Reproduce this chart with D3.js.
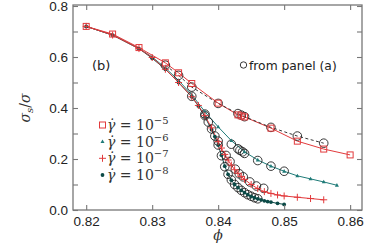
<!DOCTYPE html>
<html><head><meta charset="utf-8">
<script src="https://cdn.jsdelivr.net/npm/d3@7"></script>
<style>body{margin:0;background:#fff}svg{display:block}</style>
</head><body><svg id="c" width="382" height="244"></svg>
<script>
// ---- data ----
const xTicks = [0.82, 0.83, 0.84, 0.85, 0.86];
const xTickLabels = ["0.82", "0.83", "0.84", "0.85", "0.86"];
const yTicks = [0, 0.2, 0.4, 0.6, 0.8];
const yTickLabels = ["0.0", "0.2", "0.4", "0.6", "0.8"];
const yMinorTicks = [0.1, 0.3, 0.5, 0.7];

const x5 = [0.82, 0.824, 0.828, 0.832, 0.834, 0.836, 0.84, 0.843, 0.8435, 0.844, 0.848, 0.852, 0.856, 0.86];
const y5 = [0.72, 0.69, 0.637, 0.577, 0.538, 0.496, 0.419, 0.373, 0.369, 0.365, 0.321, 0.27, 0.239, 0.216];

const x6 = [0.82, 0.824, 0.828, 0.83, 0.832, 0.834, 0.836, 0.838, 0.84, 0.842, 0.844, 0.846, 0.848, 0.85, 0.852, 0.854, 0.856, 0.858];
const y6 = [0.72, 0.686, 0.633, 0.6, 0.557, 0.508, 0.452, 0.385, 0.326, 0.272, 0.228, 0.196, 0.172, 0.152, 0.134, 0.122, 0.11, 0.097];

const x7 = [0.82, 0.824, 0.828, 0.83, 0.832, 0.834, 0.836, 0.837, 0.838, 0.839, 0.84, 0.8405, 0.841, 0.8415, 0.842, 0.8425, 0.843, 0.8435, 0.844, 0.845, 0.846, 0.847, 0.848, 0.849, 0.85, 0.852, 0.854, 0.856];
const y7 = [0.72, 0.686, 0.633, 0.598, 0.552, 0.5, 0.444, 0.41, 0.37, 0.322, 0.268, 0.243, 0.218, 0.196, 0.176, 0.158, 0.144, 0.131, 0.12, 0.1, 0.084, 0.072, 0.065, 0.059, 0.055, 0.05, 0.045, 0.04];

const x8 = [0.82, 0.824, 0.828, 0.83, 0.832, 0.834, 0.836, 0.837, 0.838, 0.839, 0.8395, 0.84, 0.8405, 0.841, 0.8415, 0.842, 0.8425, 0.843, 0.8435, 0.844, 0.8445, 0.845, 0.8455, 0.846, 0.8465, 0.847, 0.8475, 0.848, 0.849, 0.85];
const y8 = [0.72, 0.686, 0.633, 0.595, 0.552, 0.5, 0.444, 0.408, 0.365, 0.315, 0.288, 0.255, 0.215, 0.172, 0.14, 0.117, 0.1, 0.088, 0.077, 0.068, 0.06, 0.053, 0.048, 0.044, 0.04, 0.036, 0.033, 0.031, 0.026, 0.022];

// circles "from panel (a)"
const xa5 = [0.832, 0.834, 0.836, 0.84, 0.843, 0.8435, 0.844, 0.848, 0.852, 0.856];
const ya5 = [0.568, 0.528, 0.482, 0.418, 0.378, 0.372, 0.366, 0.324, 0.29, 0.262];
const xa6 = [0.836, 0.838, 0.842, 0.843, 0.8433, 0.8437, 0.844, 0.846, 0.848, 0.85];
const ya6 = [0.446, 0.376, 0.258, 0.24, 0.234, 0.228, 0.222, 0.194, 0.172, 0.152];
const xa7 = [0.838, 0.8385, 0.839, 0.84, 0.8412, 0.8418, 0.8426, 0.8432, 0.8438, 0.8448, 0.8458, 0.8469];
const ya7 = [0.37, 0.345, 0.318, 0.27, 0.214, 0.19, 0.16, 0.142, 0.13, 0.11, 0.094, 0.085];
const xa8 = [0.8395, 0.84, 0.8405, 0.841, 0.8415, 0.842, 0.8425, 0.843, 0.8435, 0.844, 0.8445, 0.845, 0.8455, 0.846];
const ya8 = [0.29, 0.255, 0.213, 0.17, 0.14, 0.118, 0.1, 0.088, 0.077, 0.068, 0.06, 0.054, 0.048, 0.044];

const legendLabels = ["\u2212" + "5", "\u2212" + "6", "\u2212" + "7", "\u2212" + "8"];

// ---- layout ----
const red = "#e23a3c", teal = "#1f7b78", dark = "#0b4a47";
const L = 73, R = 362, T = 5, B = 210;
const svg = d3.select("#c");
const x = d3.scaleLinear().domain([0.818, 0.8618]).range([L, R]);
const y = d3.scaleLinear().domain([0, 0.8]).range([B, T + 1]);

const zip = (a, b) => a.map((v, i) => [v, b[i]]);
const line = d3.line().x(d => x(d[0])).y(d => y(d[1]));

const plot = svg.append("g");
// lines
plot.append("path").datum(zip(x6, y6)).attr("d", line).attr("fill", "none").attr("stroke", teal).attr("stroke-width", 1);
plot.append("path").datum(zip(x8, y8)).attr("d", line).attr("fill", "none").attr("stroke", dark).attr("stroke-width", 1);
plot.append("path").datum(zip(x7, y7)).attr("d", line).attr("fill", "none").attr("stroke", red).attr("stroke-width", 1);
plot.append("path").datum(zip(x5, y5)).attr("d", line).attr("fill", "none").attr("stroke", red).attr("stroke-width", 1);
plot.append("path").datum(zip(xa5, ya5)).attr("d", line).attr("fill", "none").attr("stroke", "#222").attr("stroke-width", 0.9).attr("stroke-dasharray", "3,2.5");

// circles from panel (a)
const circ = [].concat(zip(xa5, ya5), zip(xa6, ya6), zip(xa7, ya7), zip(xa8, ya8));
plot.selectAll(".ca").data(circ).join("circle").attr("cx", d => x(d[0])).attr("cy", d => y(d[1]))
  .attr("r", 4.3).attr("fill", "none").attr("stroke", "#222").attr("stroke-width", 0.9);

// markers
function sq(g, cx, cy) { g.append("rect").attr("x", cx - 3).attr("y", cy - 3).attr("width", 6).attr("height", 6).attr("fill", "none").attr("stroke", red).attr("stroke-width", 1); }
function tri(g, cx, cy) { g.append("path").attr("d", `M${cx},${cy - 2.2}L${cx + 2},${cy + 1.4}L${cx - 2},${cy + 1.4}Z`).attr("fill", teal); }
function plus(g, cx, cy) { g.append("path").attr("d", `M${cx - 3.5},${cy}H${cx + 3.5}M${cx},${cy - 3.5}V${cy + 3.5}`).attr("stroke", red).attr("stroke-width", 1); }
function dot(g, cx, cy) { g.append("circle").attr("cx", cx).attr("cy", cy).attr("r", 1.9).attr("fill", dark); }

zip(x6, y6).forEach(d => tri(plot, x(d[0]), y(d[1])));
zip(x8, y8).forEach(d => dot(plot, x(d[0]), y(d[1])));
zip(x7, y7).forEach(d => plus(plot, x(d[0]), y(d[1])));
zip(x5, y5).forEach(d => sq(plot, x(d[0]), y(d[1])));

// frame & axes
const axCol = "#777";
svg.append("rect").attr("x", L).attr("y", T).attr("width", R - L).attr("height", B - T)
  .attr("fill", "none").attr("stroke", axCol).attr("stroke-width", 1.3);

const xb = svg.append("g").attr("transform", `translate(0,${B})`)
  .call(d3.axisBottom(x).tickValues(xTicks).tickSize(-5).tickPadding(6).tickFormat((d, i) => xTickLabels[i]));
const xt = svg.append("g").attr("transform", `translate(0,${T})`)
  .call(d3.axisTop(x).tickValues(xTicks).tickSize(-5).tickFormat(""));
const yl = svg.append("g").attr("transform", `translate(${L},0)`)
  .call(d3.axisLeft(y).tickValues(yTicks.concat(yMinorTicks)).tickSize(-5).tickPadding(5)
    .tickFormat(d => { const i = yTicks.indexOf(d); return i >= 0 ? yTickLabels[i] : ""; }));
const yr = svg.append("g").attr("transform", `translate(${R},0)`)
  .call(d3.axisRight(y).tickValues(yTicks.concat(yMinorTicks)).tickSize(-5).tickFormat(""));
[xb, xt, yl, yr].forEach(g => {
  g.select(".domain").remove();
  g.selectAll(".tick line").attr("stroke", axCol).attr("stroke-width", 1.1);
  g.selectAll(".tick text").attr("fill", "#222").style("font-family", "Liberation Sans, Arial, sans-serif").style("font-size", "13.5px");
});

// axis labels
svg.append("text").attr("x", 218).attr("y", 240).attr("text-anchor", "middle")
  .style("font-family", "DejaVu Serif, serif").style("font-style", "italic").style("font-size", "14px").attr("fill", "#333").text("\u03d5");
const yt = svg.append("text").attr("transform", "translate(30,108) rotate(-90)").attr("text-anchor", "middle")
  .style("font-family", "DejaVu Serif, serif").style("font-style", "italic").style("font-size", "14px").attr("fill", "#333");
yt.append("tspan").text("\u03c3");
yt.append("tspan").attr("dy", 3).style("font-size", "10px").text("s");
yt.append("tspan").attr("dy", -3).style("font-style", "normal").text("/");
yt.append("tspan").text("\u03c3");

// annotations
svg.append("text").attr("x", 92).attr("y", 70).style("font-family", "DejaVu Sans, sans-serif").style("font-size", "13px").attr("fill", "#222").text("(b)");
svg.append("circle").attr("cx", 243.5).attr("cy", 65).attr("r", 3.2).attr("fill", "none").attr("stroke", "#222").attr("stroke-width", 0.9);
svg.append("text").attr("x", 249).attr("y", 70).style("font-family", "DejaVu Sans, sans-serif").style("font-size", "12.3px").attr("fill", "#222").text("from panel (a)");

// legend
const legY = [125, 141.7, 158.3, 175];
const markers = [sq, tri, plus, dot];
legY.forEach((ly, i) => {
  markers[i](svg, 102.5, ly);
  const t = svg.append("text").attr("x", 107).attr("y", ly + 5)
    .style("font-family", "DejaVu Serif, serif").style("font-size", "14px").attr("fill", "#333");
  t.append("tspan").style("font-style", "italic").text("\u03b3\u0307");
  t.append("tspan").text(" = 10");
  t.append("tspan").attr("dy", -6).style("font-size", "10px").text(legendLabels[i]);
});
</script></body></html>
